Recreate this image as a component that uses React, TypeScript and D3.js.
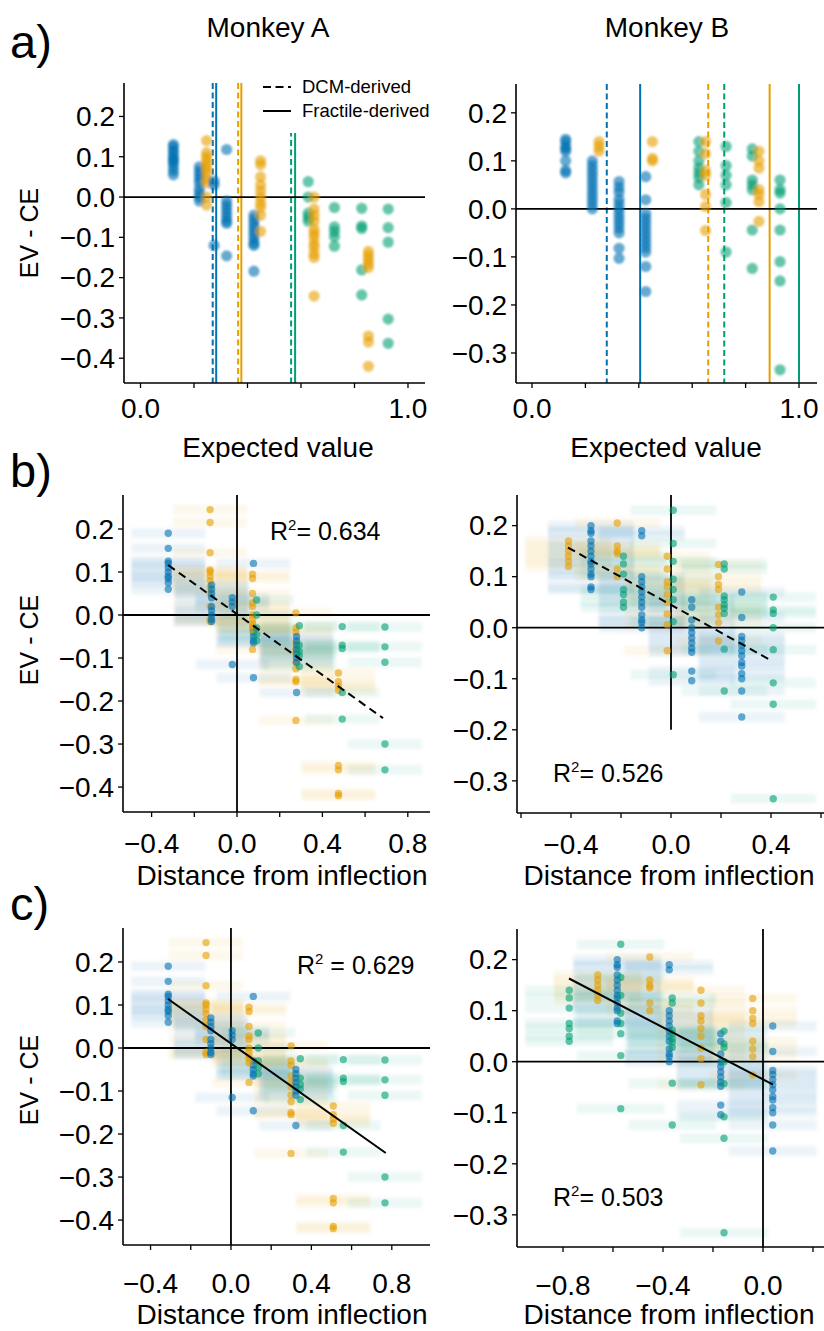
import React from 'react';
import * as d3 from 'd3';

type Group = 'blue' | 'orange' | 'green';
type Column = [Group, number, number[]];
type DistGroup = [Group, number[], number, number];

const PALETTE: Record<Group, string> = { blue: '#0072B2', orange: '#E69F00', green: '#009E73' };

// Monkey A: expected value of each gamble and EV - CE per session
const evColumnsA: Column[] = [
  ['blue', 0.123, [0.13, 0.125, 0.115, 0.11, 0.1, 0.095, 0.09, 0.085, 0.075, 0.065, 0.055]],
  ['blue', 0.22, [0.075, 0.065, 0.055, 0.045, 0.035, 0.02, 0.01, 0.0, -0.01]],
  ['orange', 0.247, [0.14, 0.11, 0.1, 0.09, 0.08, 0.07, 0.06, 0.045, 0.035, 0.0, -0.02]],
  ['blue', 0.275, [0.04, 0.03, -0.12]],
  ['blue', 0.322, [0.118, -0.01, -0.02, -0.03, -0.04, -0.05, -0.06, -0.065, -0.146]],
  ['blue', 0.424, [-0.045, -0.055, -0.065, -0.075, -0.085, -0.095, -0.105, -0.115, -0.12, -0.184]],
  ['orange', 0.449, [0.09, 0.08, 0.05, 0.03, 0.015, 0.0, -0.015, -0.025, -0.045, -0.085]],
  ['green', 0.627, [0.038, 0.0, -0.04, -0.05, -0.06]],
  ['orange', 0.649, [0.0, -0.03, -0.045, -0.06, -0.08, -0.09, -0.1, -0.115, -0.125, -0.14, -0.15, -0.246]],
  ['green', 0.725, [-0.026, -0.074, -0.085, -0.098, -0.122]],
  ['green', 0.827, [-0.028, -0.072, -0.078, -0.181, -0.243]],
  ['orange', 0.852, [-0.135, -0.145, -0.155, -0.165, -0.175, -0.345, -0.36, -0.42]],
  ['green', 0.926, [-0.03, -0.076, -0.112, -0.303, -0.363]],
];

// Monkey B: expected value of each gamble and EV - CE per session
const evColumnsB: Column[] = [
  ['blue', 0.126, [0.145, 0.14, 0.13, 0.125, 0.12, 0.1, 0.08, 0.075]],
  ['blue', 0.226, [0.1, 0.09, 0.08, 0.07, 0.06, 0.05, 0.04, 0.03, 0.02, 0.01, 0.0]],
  ['orange', 0.251, [0.14, 0.13, 0.12]],
  ['blue', 0.326, [0.057, 0.045, 0.035, 0.02, 0.01, 0.0, -0.01, -0.02, -0.03, -0.04, -0.05, -0.082, -0.103]],
  ['blue', 0.426, [0.067, 0.019, -0.01, -0.02, -0.03, -0.04, -0.05, -0.06, -0.07, -0.08, -0.09, -0.12, -0.172]],
  ['orange', 0.451, [0.14, 0.105, 0.1]],
  ['green', 0.625, [0.14, 0.12, 0.1, 0.085, 0.075, 0.065, 0.05]],
  ['orange', 0.65, [0.14, 0.115, 0.08, 0.07, 0.03, 0.005, -0.045]],
  ['green', 0.727, [0.13, 0.09, 0.07, 0.05, 0.013, -0.09]],
  ['green', 0.825, [0.125, 0.11, 0.06, 0.05, 0.04, -0.044, -0.124]],
  ['orange', 0.85, [0.12, 0.1, 0.085, 0.04, 0.03, 0.015, -0.026]],
  ['green', 0.929, [0.06, 0.04, 0.033, 0.0, -0.044, -0.11, -0.15, -0.335]],
];

// Inflection points per gamble set: [group, DCM-derived, fractile-derived]
const inflectionsA: [Group, number, number][] = [
  ['blue', 0.27, 0.283],
  ['orange', 0.365, 0.377],
  ['green', 0.563, 0.578],
];
const inflectionsB: [Group, number, number][] = [
  ['blue', 0.28, 0.405],
  ['orange', 0.66, 0.89],
  ['green', 0.72, 1.0],
];

// Monkey A: [group, EV - CE values, distance (DCM), distance (fractile)]
const distGroupsA: DistGroup[] = [
  ['blue', [0.19, 0.155, 0.125, 0.12, 0.11, 0.1, 0.09, 0.085, 0.075, 0.06], -0.322, -0.312],
  ['orange', [0.245, 0.215, 0.145, 0.105, 0.1, 0.09, 0.08, 0.065, 0.05, 0.02, -0.01, -0.015], -0.126, -0.124],
  ['blue', [0.07, 0.06, 0.05, 0.04, 0.02, 0.01, 0.0, -0.01, -0.015], -0.119, -0.1],
  ['blue', [0.04, 0.03, 0.02, -0.115], -0.022, 0.006],
  ['blue', [0.12, -0.03, -0.04, -0.05, -0.06, -0.065, -0.146], 0.077, 0.111],
  ['orange', [0.095, 0.085, 0.05, 0.028, 0.02, 0.0, -0.01, -0.02, -0.025, -0.035, -0.08], 0.073, 0.09],
  ['green', [0.035, 0.0, -0.03, -0.045, -0.06], 0.092, 0.136],
  ['orange', [0.005, -0.03, -0.04, -0.065, -0.08, -0.09, -0.11, -0.125, -0.15, -0.155, -0.245], 0.276, 0.299],
  ['blue', [-0.05, -0.06, -0.07, -0.08, -0.09, -0.1, -0.11, -0.18], 0.279, 0.323],
  ['green', [-0.025, -0.07, -0.085, -0.095, -0.12], 0.292, 0.345],
  ['orange', [-0.135, -0.155, -0.165, -0.175, -0.35, -0.36, -0.415, -0.42], 0.475, 0.509],
  ['green', [-0.027, -0.07, -0.078, -0.18, -0.242], 0.493, 0.559],
  ['green', [-0.028, -0.074, -0.11, -0.3, -0.36], 0.693, 0.766],
];

// Monkey B: [group, EV - CE values, distance (DCM), distance (fractile)]
const distGroupsB: DistGroup[] = [
  ['orange', [0.17, 0.16, 0.15, 0.14, 0.13, 0.12], -0.41, -0.661],
  ['blue', [0.2, 0.19, 0.185, 0.17, 0.16, 0.15, 0.14, 0.13, 0.125, 0.115, 0.105, 0.1, 0.08, 0.075], -0.32, -0.583],
  ['orange', [0.205, 0.16, 0.15, 0.145, 0.115, 0.1], -0.215, -0.453],
  ['green', [0.14, 0.125, 0.105, 0.075, 0.065, 0.05, 0.04], -0.19, -0.775],
  ['blue', [0.19, 0.18, 0.1, 0.09, 0.08, 0.07, 0.06, 0.05, 0.04, 0.025, 0.015, 0.01, 0.0], -0.117, -0.375],
  ['orange', [0.14, 0.115, 0.09, 0.08, 0.065, 0.05, 0.027, 0.006, -0.045], -0.015, -0.248],
  ['green', [0.23, 0.165, 0.13, 0.095, 0.075, 0.055, 0.012, -0.092], 0.009, -0.569],
  ['blue', [0.055, 0.04, 0.015, 0.0, -0.01, -0.02, -0.03, -0.04, -0.048, -0.085, -0.104], 0.083, -0.169],
  ['orange', [0.124, 0.1, 0.085, 0.075, 0.04, 0.025, 0.01, -0.026], 0.19, -0.041],
  ['green', [0.125, 0.115, 0.062, 0.055, 0.045, 0.038, 0.028, -0.042, -0.124], 0.213, -0.363],
  ['blue', [0.07, 0.02, -0.017, -0.025, -0.035, -0.045, -0.055, -0.068, -0.075, -0.09, -0.1, -0.124, -0.175], 0.283, 0.039],
  ['green', [0.06, 0.035, 0.028, 0.0, -0.043, -0.108, -0.15, -0.335], 0.409, -0.156],
];

// Linear fits: [slope, intercept, x from, x to, R²]
const fitDcmA = [-0.3535, 0.002, -0.322, 0.684, 0.634];
const fitDcmB = [-0.2723, 0.0448, -0.412, 0.396, 0.526];
const fitFracA = [-0.3306, 0.0105, -0.313, 0.77, 0.629];
const fitFracB = [-0.2549, -0.0348, -0.776, 0.04, 0.503];

// Uncertainty of each session's inflection estimate (half-width, distance units)
const bandHalfWidth = { bL: 0.173, bR: 0.172, cL: 0.184, cR: 0.176 };

const yTicksA = [-0.4, -0.3, -0.2, -0.1, 0, 0.1, 0.2];
const yTicksB = [-0.3, -0.2, -0.1, 0, 0.1, 0.2];
const evTicks = [0, 0.2, 0.4, 0.6, 0.8, 1.0];
const evTickLabels = [0, 1.0];
const distTicksA = [-0.4, -0.2, 0, 0.2, 0.4, 0.6, 0.8];
const distTickLabelsA = [-0.4, 0, 0.4, 0.8];
const distTicksBDcm = [-0.6, -0.4, -0.2, 0, 0.2, 0.4, 0.6];
const distTickLabelsBDcm = [-0.4, 0, 0.4];
const distTicksBFrac = [-0.8, -0.6, -0.4, -0.2, 0, 0.2];
const distTickLabelsBFrac = [-0.8, -0.4, 0];

const FONT = '"Liberation Sans", Arial, Helvetica, sans-serif';
const fmt = d3.format('.1f');
const lab = (v: number) => fmt(Math.abs(v) < 1e-9 ? 0 : v);

interface Frame {
  l: number; r: number; t: number; b: number;
  xd: [number, number]; yd: [number, number];
}

const frames: Record<string, Frame> = {
  aL: { l: 124, r: 425, t: 83, b: 383, xd: [-0.0617, 1.0636], yd: [0.283, -0.4615] },
  aR: { l: 516, r: 817, t: 84, b: 383, xd: [-0.06, 1.0674], yd: [0.26, -0.3625] },
  bL: { l: 123, r: 430, t: 495, b: 812, xd: [-0.534, 0.904], yd: [0.279, -0.458] },
  bR: { l: 517, r: 824, t: 495, b: 813, xd: [-0.616, 0.612], yd: [0.26, -0.363] },
  cL: { l: 123, r: 430, t: 928, b: 1245, xd: [-0.537, 0.99], yd: [0.279, -0.458] },
  cR: { l: 517, r: 824, t: 929, b: 1247, xd: [-0.984, 0.244], yd: [0.26, -0.363] },
};

const scales = (f: Frame) => ({
  x: d3.scaleLinear().domain(f.xd).range([f.l, f.r]),
  y: d3.scaleLinear().domain(f.yd).range([f.t, f.b]),
});

function Axes({ f, xTicks, xLabels, yTicks, xLabelOffset }: {
  f: Frame; xTicks: number[]; xLabels: number[]; yTicks: number[]; xLabelOffset: number;
}) {
  const { x, y } = scales(f);
  return (
    <g>
      <line x1={f.l} x2={f.l} y1={f.t} y2={f.b} stroke="#000" strokeWidth={1.6} />
      <line x1={f.l} x2={f.r} y1={f.b} y2={f.b} stroke="#000" strokeWidth={1.6} />
      {yTicks.map((v) => (
        <g key={'y' + v}>
          <line x1={f.l - 5} x2={f.l} y1={y(v)} y2={y(v)} stroke="#000" strokeWidth={1.3} />
          <text x={f.l - 9} y={y(v)} dy="0.35em" textAnchor="end" fontSize={28} fontFamily={FONT}>
            {lab(v)}
          </text>
        </g>
      ))}
      {xTicks.map((v) => (
        <line key={'x' + v} x1={x(v)} x2={x(v)} y1={f.b} y2={f.b + 5} stroke="#000" strokeWidth={1.3} />
      ))}
      {xLabels.map((v) => (
        <text key={'xl' + v} x={x(v)} y={f.b + xLabelOffset} textAnchor="middle" fontSize={28} fontFamily={FONT}>
          {lab(v)}
        </text>
      ))}
    </g>
  );
}

function EVPanel({ f, cols, infl, legend }: {
  f: Frame; cols: Column[]; infl: [Group, number, number][]; legend?: boolean;
}) {
  const { x, y } = scales(f);
  return (
    <g>
      {infl.map(([g, dcm, frac]) => (
        <g key={g}>
          <line x1={x(dcm)} x2={x(dcm)} y1={f.t} y2={f.b} stroke={PALETTE[g]} strokeWidth={2} strokeDasharray="6,3.5" />
          <line x1={x(frac)} x2={x(frac)} y1={f.t} y2={f.b} stroke={PALETTE[g]} strokeWidth={2} />
        </g>
      ))}
      {legend && (
        <g fontFamily={FONT} fontSize={18.5}>
          <rect x={256} y={76} width={190} height={57} fill="#fff" />
          <line x1={263} x2={291} y1={87} y2={87} stroke="#000" strokeWidth={2} strokeDasharray="8,4.5" />
          <line x1={263} x2={291} y1={111} y2={111} stroke="#000" strokeWidth={2} />
          <text x={302} y={87} dy="0.35em">DCM-derived</text>
          <text x={302} y={111} dy="0.35em">Fractile-derived</text>
        </g>
      )}
      <line x1={f.l} x2={f.r} y1={y(0)} y2={y(0)} stroke="#000" strokeWidth={1.8} />
      <g filter="url(#soft)">
        {cols.flatMap(([g, ev, vals], i) =>
          vals.map((v, j) => (
            <circle key={i + '-' + j} cx={x(ev)} cy={y(v)} r={5.6} fill={PALETTE[g]} fillOpacity={0.6} />
          ))
        )}
      </g>
    </g>
  );
}

function DistPanel({ f, groups, which, hw, fit, dashed, vLineBottom, r2Pos, r2Gap }: {
  f: Frame; groups: DistGroup[]; which: 2 | 3; hw: number; fit: number[]; dashed: boolean;
  vLineBottom?: number; r2Pos: [number, number]; r2Gap?: boolean;
}) {
  const { x, y } = scales(f);
  const [slope, icpt, x0, x1, r2] = fit;
  const vb = vLineBottom === undefined ? f.b : y(vLineBottom);
  return (
    <g>
      <g filter="url(#bandBlur)">
        {groups.flatMap((gr, i) =>
          gr[1].map((v, j) => (
            <rect key={i + '-' + j} x={x(gr[which] - hw)} width={x(gr[which] + hw) - x(gr[which] - hw)}
              y={y(v) - 5} height={10} fill={PALETTE[gr[0]]} fillOpacity={0.075} />
          ))
        )}
      </g>
      <line x1={f.l} x2={f.r} y1={y(0)} y2={y(0)} stroke="#000" strokeWidth={1.8} />
      <line x1={x(0)} x2={x(0)} y1={f.t} y2={vb} stroke="#000" strokeWidth={1.8} />
      {groups.flatMap((gr, i) =>
        gr[1].map((v, j) => (
          <circle key={'p' + i + '-' + j} cx={x(gr[which])} cy={y(v)} r={3.7} fill={PALETTE[gr[0]]} fillOpacity={0.6} />
        ))
      )}
      <line x1={x(x0)} x2={x(x1)} y1={y(slope * x0 + icpt)} y2={y(slope * x1 + icpt)}
        stroke="#000" strokeWidth={2} strokeDasharray={dashed ? '8,5' : undefined} />
      <text x={r2Pos[0]} y={r2Pos[1]} fontSize={25} fontFamily={FONT}>
        R<tspan fontSize={15} dy={-10}>2</tspan><tspan dy={10}>{r2Gap ? ' = ' : '= '}{r2.toFixed(3)}</tspan>
      </text>
    </g>
  );
}

export default function App() {
  const f = frames;
  return (
    <svg width={824} height={1331} style={{ position: 'absolute', left: 0, top: 0, background: '#fff' }}>
      <defs>
        <filter id="soft" x="-10%" y="-10%" width="120%" height="120%">
          <feGaussianBlur stdDeviation={1.3} />
        </filter>
        <filter id="bandBlur" x="-10%" y="-10%" width="120%" height="120%">
          <feGaussianBlur stdDeviation={1.4} />
        </filter>
      </defs>
      <rect width={824} height={1331} fill="#fff" />

      <g fontFamily={FONT}>
        <text x={10} y={58} fontSize={47}>a)</text>
        <text x={10} y={487} fontSize={47}>b)</text>
        <text x={10} y={920} fontSize={47}>c)</text>
        <text x={268} y={37} fontSize={28} textAnchor="middle">Monkey A</text>
        <text x={667} y={37} fontSize={28} textAnchor="middle">Monkey B</text>
        <text transform="translate(38,233) rotate(-90)" fontSize={25} textAnchor="middle">EV - CE</text>
        <text transform="translate(38,640) rotate(-90)" fontSize={25} textAnchor="middle">EV - CE</text>
        <text transform="translate(38,1080) rotate(-90)" fontSize={25} textAnchor="middle">EV - CE</text>
        <text x={278} y={457} fontSize={28} textAnchor="middle">Expected value</text>
        <text x={666} y={457} fontSize={28} textAnchor="middle">Expected value</text>
        <text x={282} y={885} fontSize={28} textAnchor="middle">Distance from inflection</text>
        <text x={669} y={885} fontSize={28} textAnchor="middle">Distance from inflection</text>
        <text x={282} y={1324} fontSize={28} textAnchor="middle">Distance from inflection</text>
        <text x={669} y={1324} fontSize={28} textAnchor="middle">Distance from inflection</text>
      </g>

      <EVPanel f={f.aL} cols={evColumnsA} infl={inflectionsA} legend />
      <Axes f={f.aL} xTicks={evTicks} xLabels={evTickLabels} yTicks={yTicksA} xLabelOffset={35} />
      <EVPanel f={f.aR} cols={evColumnsB} infl={inflectionsB} />
      <Axes f={f.aR} xTicks={evTicks} xLabels={evTickLabels} yTicks={yTicksB} xLabelOffset={35} />

      <DistPanel f={f.bL} groups={distGroupsA} which={2} hw={bandHalfWidth.bL} fit={fitDcmA} dashed r2Pos={[270, 540]} />
      <Axes f={f.bL} xTicks={distTicksA} xLabels={distTickLabelsA} yTicks={yTicksA} xLabelOffset={41} />
      <DistPanel f={f.bR} groups={distGroupsB} which={2} hw={bandHalfWidth.bR} fit={fitDcmB} dashed vLineBottom={-0.2} r2Pos={[553, 782]} />
      <Axes f={f.bR} xTicks={distTicksBDcm} xLabels={distTickLabelsBDcm} yTicks={yTicksB} xLabelOffset={41} />

      <DistPanel f={f.cL} groups={distGroupsA} which={3} hw={bandHalfWidth.cL} fit={fitFracA} dashed={false} r2Pos={[297, 974]} r2Gap />
      <Axes f={f.cL} xTicks={distTicksA} xLabels={distTickLabelsA} yTicks={yTicksA} xLabelOffset={48} />
      <DistPanel f={f.cR} groups={distGroupsB} which={3} hw={bandHalfWidth.cR} fit={fitFracB} dashed={false} r2Pos={[553, 1206]} />
      <Axes f={f.cR} xTicks={distTicksBFrac} xLabels={distTickLabelsBFrac} yTicks={yTicksB} xLabelOffset={48} />
    </svg>
  );
}
